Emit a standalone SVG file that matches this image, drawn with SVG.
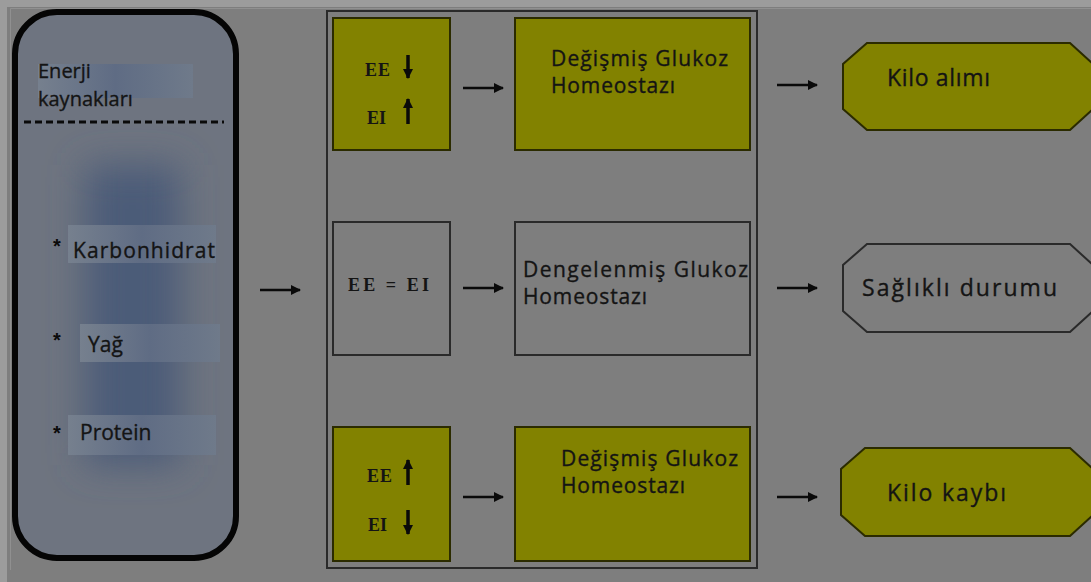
<svg xmlns="http://www.w3.org/2000/svg" width="1091" height="582" viewBox="0 0 1091 582">
<defs>
<style>
.t{font-family:"Open Sans",Lato,sans-serif;font-size:21px;fill:#141414;stroke:#141414;stroke-width:0.35}
.e{font-family:"Open Sans",Lato,sans-serif;font-size:20px;fill:#141414;stroke:#141414;stroke-width:0.35}
.o{font-family:"Open Sans",Lato,sans-serif;font-size:23px;fill:#141414;stroke:#141414;stroke-width:0.35}
.s{font-family:"Liberation Serif",serif;font-size:18px;font-weight:bold;fill:#141414}
.b{font-family:"Liberation Sans",sans-serif;font-size:20px;font-weight:bold;fill:#0a0a0a}
.olive{fill:#828200;stroke:#2b2b00;stroke-width:2}
.plain{fill:#7e7e7e;stroke:#2a2a2a;stroke-width:2}
.hl{fill:url(#hlg)}
.con{stroke:#0a0a0a;stroke-width:2.5;fill:none;marker-end:url(#ah)}
.sm{stroke:#0a0a0a;stroke-width:3.5;fill:none;marker-end:url(#ah2)}
</style>
<marker id="ah" viewBox="0 0 10 10" refX="9" refY="5" markerWidth="4" markerHeight="4" orient="auto" markerUnits="strokeWidth"><path d="M0,0 L10,5 L0,10 z" fill="#0a0a0a"/></marker>
<marker id="ah2" viewBox="0 0 10 10" refX="9" refY="5" markerWidth="3" markerHeight="3" orient="auto" markerUnits="strokeWidth"><path d="M0,0 L10,5 L0,10 z" fill="#0a0a0a"/></marker>
<filter id="blur" x="-50%" y="-30%" width="200%" height="160%"><feGaussianBlur stdDeviation="18"/></filter>
<linearGradient id="hlg" x1="0" y1="0" x2="1" y2="0">
<stop offset="0" stop-color="#76808e"/>
<stop offset="0.5" stop-color="#5f6c84"/>
<stop offset="1" stop-color="#6f7a8a"/>
</linearGradient>
</defs>
<rect x="0" y="0" width="1091" height="582" fill="#7e7e7e"/>
<rect x="0" y="0" width="1091" height="7" fill="#9c9c9c"/>
<rect x="0" y="0" width="7" height="582" fill="#9c9c9c"/>
<path d="M10.5,8.5 V570" stroke="#909090" stroke-width="1"/>
<path d="M10.5,8.5 H1091" stroke="#909090" stroke-width="1"/>

<g id="energy-sources">
<rect x="15" y="12" width="221" height="546" rx="42" fill="#6e7480" stroke="#050505" stroke-width="6"/>
<rect x="85" y="165" width="95" height="300" fill="#4c5b78" filter="url(#blur)"/>
<rect x="38" y="64" width="155" height="34" class="hl"/>
<text x="38" y="78" class="e">Enerji</text>
<text x="38" y="106" class="e">kaynakları</text>
<path d="M24,122 H224" stroke="#0a0a0a" stroke-width="3" stroke-dasharray="7,4"/>
<rect x="68" y="225" width="148" height="38" class="hl"/>
<rect x="80" y="324" width="140" height="38" class="hl"/>
<rect x="68" y="415" width="148" height="40" class="hl"/>
<text x="53" y="253" class="b">*</text>
<text x="73" y="258" class="t" textLength="142" lengthAdjust="spacing">Karbonhidrat</text>
<text x="53" y="347" class="b">*</text>
<text x="88" y="352" class="t" font-size="23">Yağ</text>
<text x="53" y="440" class="b">*</text>
<text x="80" y="440" class="t" font-size="23">Protein</text>
</g>

<g id="container">
<rect x="327" y="11" width="430" height="557" fill="none" stroke="#2a2a2a" stroke-width="2"/>
</g>

<g id="ee-ei-1">
<rect x="333" y="18" width="117" height="132" class="olive"/>
<text x="365" y="76" class="s" textLength="25" lengthAdjust="spacing">EE</text>
<path d="M408,55 V78" class="sm"/>
<text x="367" y="124" class="s">EI</text>
<path d="M408,124 V99" class="sm"/>
</g>
<g id="glukoz-1">
<rect x="515" y="18" width="235" height="132" class="olive"/>
<text x="551" y="66" class="t" font-size="22" textLength="177" lengthAdjust="spacing">Değişmiş Glukoz</text>
<text x="551" y="93" class="t" font-size="22" textLength="124" lengthAdjust="spacing">Homeostazı</text>
</g>

<g id="ee-ei-2">
<rect x="333" y="222" width="117" height="133" class="plain"/>
<text x="348" y="291" class="s" textLength="81" lengthAdjust="spacing">EE  =  EI</text>
</g>
<g id="glukoz-2">
<rect x="515" y="222" width="235" height="133" class="plain"/>
<text x="523" y="277" class="t" font-size="22" textLength="225" lengthAdjust="spacing">Dengelenmiş Glukoz</text>
<text x="523" y="304" class="t" font-size="22" textLength="124" lengthAdjust="spacing">Homeostazı</text>
</g>

<g id="ee-ei-3">
<rect x="333" y="427" width="117" height="134" class="olive"/>
<text x="367" y="482" class="s" textLength="25" lengthAdjust="spacing">EE</text>
<path d="M408,485 V460" class="sm"/>
<text x="368" y="531" class="s">EI</text>
<path d="M408,510 V534" class="sm"/>
</g>
<g id="glukoz-3">
<rect x="515" y="427" width="235" height="134" class="olive"/>
<text x="561" y="466" class="t" font-size="22" textLength="177" lengthAdjust="spacing">Değişmiş Glukoz</text>
<text x="561" y="493" class="t" font-size="22" textLength="124" lengthAdjust="spacing">Homeostazı</text>
</g>

<g id="kilo-alimi">
<polygon points="867,43 1070,43 1093,64 1093,109 1070,130 867,130 843,109 843,64" class="olive"/>
<text x="887" y="86" class="o" textLength="103" lengthAdjust="spacing">Kilo alımı</text>
</g>
<g id="saglikli">
<polygon points="867,244 1070,244 1093,265 1093,311 1070,332 867,332 843,311 843,265" class="plain"/>
<text x="862" y="296" class="o" textLength="195" lengthAdjust="spacing">Sağlıklı durumu</text>
</g>
<g id="kilo-kaybi">
<polygon points="865,448 1070,448 1093,469 1093,515 1070,536 865,536 841,515 841,469" class="olive"/>
<text x="887" y="501" class="o" textLength="119" lengthAdjust="spacing">Kilo kaybı</text>
</g>

<g id="connectors">
<path d="M260,290 H300" class="con"/>
<path d="M463,88 H503" class="con"/>
<path d="M463,288 H503" class="con"/>
<path d="M463,497 H503" class="con"/>
<path d="M777,85 H817" class="con"/>
<path d="M777,288 H817" class="con"/>
<path d="M777,497 H817" class="con"/>
</g>
</svg>
